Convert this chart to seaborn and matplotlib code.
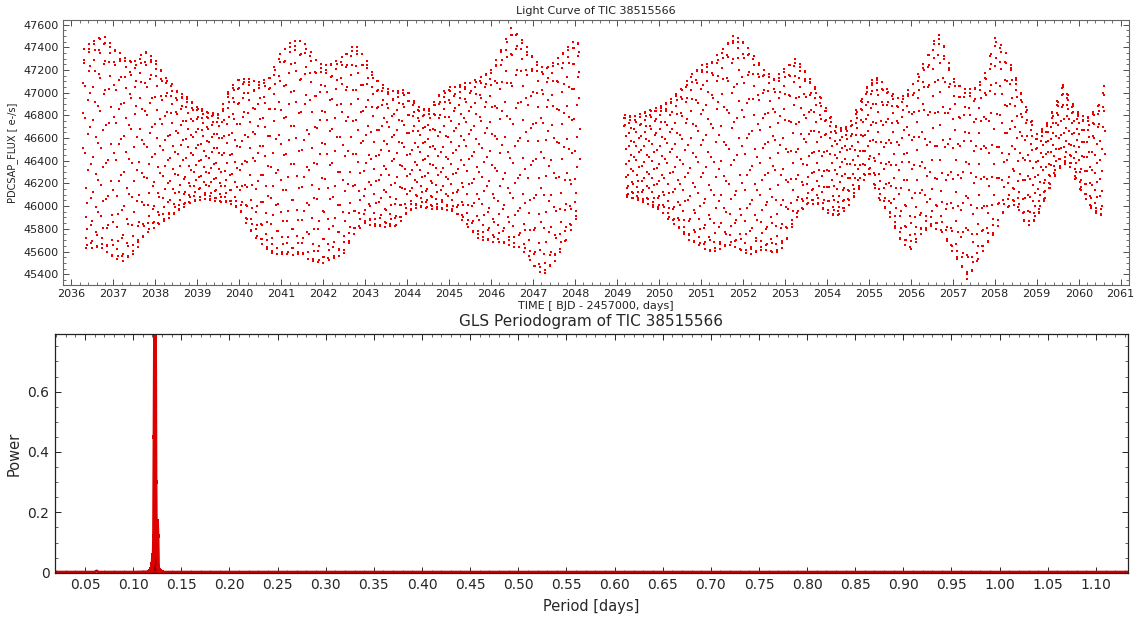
import numpy as np
import pandas as pd
import matplotlib
matplotlib.use("Agg")
import matplotlib.pyplot as plt
import seaborn as sns
from matplotlib.ticker import MultipleLocator

# ---------------- data ----------------
# Light curve envelope (upper / lower flux, e-/s) at sample times (BTJD)
env_time_1 = [2036.27, 2036.5, 2036.75, 2037.0, 2037.25, 2037.5, 2037.75, 2038.0, 2038.25,
              2038.5, 2038.75, 2039.0, 2039.25, 2039.5, 2039.75, 2040.0, 2040.25, 2040.5,
              2040.75, 2041.0, 2041.25, 2041.5, 2041.75, 2042.0, 2042.25, 2042.5, 2042.75,
              2043.0, 2043.25, 2043.5, 2043.75, 2044.0, 2044.25, 2044.5, 2044.75, 2045.0,
              2045.25, 2045.5, 2045.75, 2046.0, 2046.25, 2046.5, 2046.75, 2047.0, 2047.25,
              2047.5, 2047.75, 2048.0, 2048.12]
env_upper_1 = [47390, 47450, 47510, 47400, 47315, 47270, 47375, 47290, 47140,
               47020, 46965, 46875, 46830, 46815, 47020, 47125, 47125, 47095,
               47150, 47375, 47450, 47470, 47330, 47230, 47270, 47330, 47430,
               47315, 47125, 47035, 47020, 47020, 46875, 46845, 46975, 47050,
               47065, 47095, 47140, 47200, 47390, 47580, 47460, 47315, 47215,
               47270, 47375, 47460, 47440]
env_lower_1 = [45630, 45630, 45630, 45540, 45510, 45585, 45745, 45820, 45880,
               45940, 46010, 46055, 46055, 46040, 46025, 45970, 45790, 45675,
               45585, 45570, 45570, 45570, 45510, 45500, 45540, 45585, 45760,
               45850, 45820, 45820, 45820, 45940, 45995, 45980, 45970, 45970,
               45910, 45790, 45700, 45690, 45675, 45645, 45615, 45470, 45395,
               45500, 45660, 45880, 45900]

env_time_2 = [2049.17, 2049.5, 2049.75, 2050.0, 2050.25, 2050.5, 2050.75, 2051.0, 2051.25,
              2051.5, 2051.75, 2052.0, 2052.25, 2052.5, 2052.75, 2053.0, 2053.25, 2053.5,
              2053.75, 2054.0, 2054.25, 2054.5, 2054.75, 2055.0, 2055.25, 2055.5, 2055.75,
              2056.0, 2056.25, 2056.5, 2056.6, 2056.75, 2057.0, 2057.25, 2057.35, 2057.5,
              2057.75, 2058.0, 2058.25, 2058.5, 2058.75, 2059.0, 2059.25, 2059.5, 2059.65,
              2059.75, 2060.0, 2060.25, 2060.5, 2060.63]
env_upper_2 = [46800, 46800, 46845, 46875, 46935, 47020, 47155, 47240, 47270,
               47375, 47505, 47460, 47330, 47200, 47125, 47215, 47300, 47185,
               47035, 46845, 46685, 46700, 46875, 47095, 47140, 47005, 46950,
               47050, 47215, 47400, 47530, 47480, 47140, 47035, 47035, 47035,
               47140, 47490, 47375, 47140, 46875, 46640, 46730, 46935, 47110,
               46965, 46815, 46785, 46905, 47125]
env_lower_2 = [46085, 46055, 46010, 45970, 45880, 45790, 45690, 45645, 45585,
               45630, 45660, 45585, 45570, 45630, 45570, 45660, 45880, 46010,
               46025, 45940, 45910, 45995, 46140, 46290, 46055, 45910, 45700,
               45615, 45760, 45820, 45800, 45760, 45585, 45440, 45350, 45440,
               45630, 45760, 45970, 46025, 45820, 45880, 46110, 46320, 46360,
               46380, 46170, 45995, 45910, 45940]

pulsation_period = 0.1227   # days, peak of the periodogram
cadence = 10.0 / 1440.0      # days

# GLS periodogram
base_period = [0.0188, 0.0500, 0.0600, 0.0620, 0.0640, 0.1000, 0.1150]
base_power = [0.002, 0.002, 0.002, 0.006, 0.002, 0.002, 0.003]
peak_period = [0.1160, 0.1180, 0.1190, 0.1200, 0.1205, 0.1210, 0.1215, 0.1220, 0.1224,
               0.1227, 0.1230, 0.1234, 0.1240, 0.1245, 0.1250, 0.1255, 0.1260, 0.1268,
               0.1280, 0.1300]
peak_power = [0.003, 0.006, 0.012, 0.030, 0.060, 0.030, 0.120, 0.450, 0.740,
              0.780, 0.700, 0.300, 0.060, 0.170, 0.170, 0.120, 0.020, 0.008,
              0.004, 0.002]
tail_period = [0.1300, 0.2000, 0.4000, 0.6000, 0.8000, 1.0000, 1.1330]
tail_power = [0.002, 0.002, 0.002, 0.002, 0.002, 0.002, 0.002]

# ---------------- build light-curve samples ----------------
frames = []
for et, eu, el in [(env_time_1, env_upper_1, env_lower_1), (env_time_2, env_upper_2, env_lower_2)]:
    t = np.arange(et[0], et[-1], cadence)
    up = np.interp(t, et, eu)
    lo = np.interp(t, et, el)
    mid = 0.5 * (up + lo)
    amp = 0.5 * (up - lo)
    f = mid + amp * np.sin(2 * np.pi * (t - 2036.27) / pulsation_period)
    frames.append(pd.DataFrame({"time": t, "flux": f}))
lc = pd.concat(frames, ignore_index=True)

pg_base = pd.DataFrame({"period": base_period + tail_period, "power": base_power + tail_power})
pg_peak = pd.DataFrame({"period": peak_period, "power": peak_power})

# ---------------- plotting ----------------
sns.set_theme(style="ticks")
plt.rcParams["font.family"] = ["DejaVu Sans"]

fig = plt.figure(figsize=(11.43, 6.17), dpi=100)
ax1 = fig.add_axes([0.0551, 0.5381, 0.9327, 0.4295])
ax2 = fig.add_axes([0.0481, 0.0718, 0.9385, 0.3864])

red = "#ee0000"
sns.scatterplot(data=lc, x="time", y="flux", ax=ax1, color=red, marker="s",
                s=4.0, linewidth=0, legend=False)
ax1.set_xlim(2035.8, 2061.2)
ax1.set_ylim(45305, 47640)
ax1.xaxis.set_major_locator(MultipleLocator(1))
ax1.xaxis.set_minor_locator(MultipleLocator(0.2))
ax1.yaxis.set_major_locator(MultipleLocator(200))
ax1.yaxis.set_minor_locator(MultipleLocator(50))
ax1.tick_params(which="both", direction="in", top=True, right=True, labelsize=8,
                colors="#333333", labelcolor="#222222", pad=3)
ax1.tick_params(which="major", length=4, width=0.6)
ax1.tick_params(which="minor", length=2, width=0.5)
for sp in ax1.spines.values():
    sp.set_color("#666666")
    sp.set_linewidth(0.8)
ax1.set_title("Light Curve of TIC 38515566", fontsize=8, color="#222222", pad=4)
ax1.set_xlabel("TIME [ BJD - 2457000, days]", fontsize=8, color="#222222", labelpad=1)
ax1.set_ylabel("PDCSAP_FLUX [ e-/s]", fontsize=7, color="#222222", labelpad=4)

sns.lineplot(data=pg_base, x="period", y="power", ax=ax2, color="#cc0000",
             linewidth=2.0, legend=False)
sns.lineplot(data=pg_peak, x="period", y="power", ax=ax2, color="#dd0000",
             linewidth=2.5, marker="s", markersize=3, markeredgewidth=0,
             legend=False)
ax2.fill_between(peak_period, 0, np.minimum(peak_power, 0.06), color="#990000", linewidth=0)
ax2.set_xlim(0.0188, 1.133)
ax2.set_ylim(0, 0.79)
ax2.xaxis.set_major_locator(MultipleLocator(0.05))
ax2.xaxis.set_minor_locator(MultipleLocator(0.01))
ax2.yaxis.set_major_locator(MultipleLocator(0.2))
ax2.yaxis.set_minor_locator(MultipleLocator(0.05))
ax2.xaxis.set_major_formatter(plt.FuncFormatter(lambda v, p: f"{v:.2f}"))
ax2.yaxis.set_major_formatter(plt.FuncFormatter(lambda v, p: "0" if abs(v) < 1e-9 else f"{v:.1f}"))
ax2.tick_params(which="both", direction="in", top=True, right=True, labelsize=10, pad=4)
ax2.tick_params(which="major", length=4, width=0.7)
ax2.tick_params(which="minor", length=2, width=0.5)
for sp in ax2.spines.values():
    sp.set_color("#222222")
    sp.set_linewidth(0.9)
ax2.set_title("GLS Periodogram of TIC 38515566", fontsize=11, pad=6)
ax2.set_xlabel("Period [days]", fontsize=10.5, labelpad=5)
ax2.set_ylabel("Power", fontsize=10.5, labelpad=4)

fig.savefig("out.png", dpi=100)
